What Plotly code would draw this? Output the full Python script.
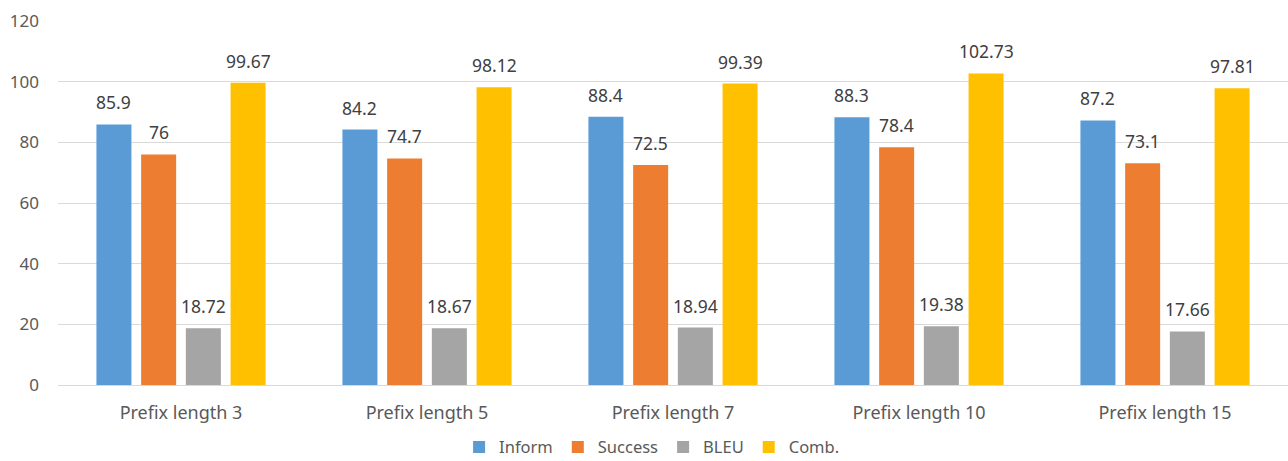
import plotly.graph_objects as go

categories = ["Prefix length 3", "Prefix length 5", "Prefix length 7", "Prefix length 10", "Prefix length 15"]
inform = [85.9, 84.2, 88.4, 88.3, 87.2]
success = [76, 74.7, 72.5, 78.4, 73.1]
bleu = [18.72, 18.67, 18.94, 19.38, 17.66]
comb = [99.67, 98.12, 99.39, 102.73, 97.81]
y_ticks = [0, 20, 40, 60, 80, 100, 120]

series = [("Inform", inform, "#5B9BD5"), ("Success", success, "#ED7D31"),
          ("BLEU", bleu, "#A5A5A5"), ("Comb.", comb, "#FFC000")]

FONT = "Noto Sans"
TXT = "#595959"
bargap = 0.273
bargroupgap = 0.217

fig = go.Figure()
for name, vals, col in series:
    fig.add_trace(go.Bar(x=categories, y=vals, name=name, marker_color=col,
                         marker_line_width=0))

# data labels above bars
n = len(series)
slot = (1 - bargap) / n
annotations = []
for k, (name, vals, col) in enumerate(series):
    for i, v in enumerate(vals):
        annotations.append(dict(
            x=i - (1 - bargap) / 2 + (k + 0.5) * slot, y=v, xref="x", yref="y",
            text=f"{v:g}", showarrow=False, yshift=22, yanchor="middle",
            font=dict(family=FONT, size=17.5, color="#404040")))

fig.update_layout(
    width=1288, height=461,
    margin=dict(l=58, r=0, t=21, b=76, autoexpand=False),
    paper_bgcolor="white", plot_bgcolor="white",
    barmode="group", bargap=bargap, bargroupgap=bargroupgap,
    font=dict(family=FONT, size=16, color=TXT),
    annotations=annotations,
    legend=dict(orientation="h", x=0.483, xanchor="center", yref="container",
                y=0.030, yanchor="middle",
                font=dict(family=FONT, size=16.5, color=TXT), itemwidth=30,
                traceorder="normal"),
    xaxis=dict(showgrid=False, showline=False, ticks="", zeroline=False, automargin=False,
               tickfont=dict(family=FONT, size=18, color=TXT), ticklabelstandoff=15),
    yaxis=dict(range=[0, 120], tickvals=y_ticks, showgrid=True, gridcolor="#D9D9D9",
               gridwidth=1, zeroline=True, zerolinecolor="#D9D9D9", zerolinewidth=1,
               showline=False, ticks="", ticklabelstandoff=18, automargin=False,
               tickfont=dict(family=FONT, size=17, color=TXT)),
)

fig.write_html("out.html")
